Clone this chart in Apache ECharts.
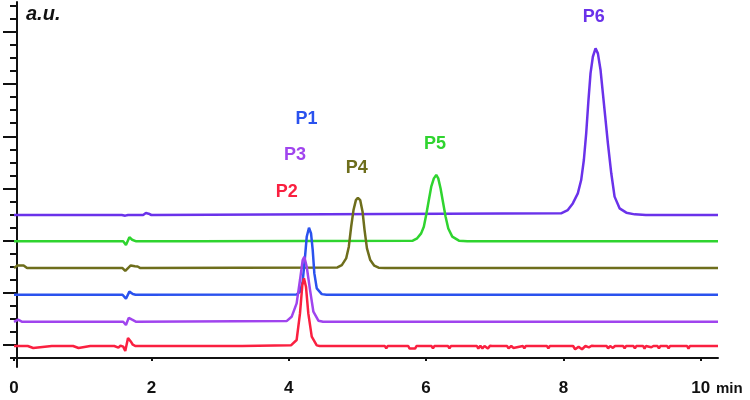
<!DOCTYPE html>
<html>
<head>
<meta charset="utf-8">
<script src="https://cdn.jsdelivr.net/npm/echarts@6/dist/echarts.min.js"></script>
<style>
  html, body { margin: 0; padding: 0; background: #fff; }
</style>
</head>
<body>
<div id="chart" style="width:750px;height:400px;"></div>
<script>
// peak names, from top trace to bottom trace
const names = ['P6', 'P5', 'P4', 'P1', 'P3', 'P2']
const colors = ['#6a32ea', '#2fd42f', '#6e6e1c', '#2a52ee', '#a044ee', '#fa2040']
// baseline of every trace (stacked offset, in a.u.)
const offsets = [10.96, 8.94, 6.89, 4.84, 2.77, 0.91]
const xTicks = [0, 2, 4, 6, 8, 10]

// [time (min), signal above baseline (a.u.)]
const traceP6 = [
  [0, 0], [1.57, 0], [1.62, -0.05], [1.66, 0], [1.88, 0], [1.92, 0.15], [1.96, 0.1], [2.0, 0],
  [7.965, 0.13], [8.063, 0.38], [8.136, 0.89], [8.209, 1.66], [8.258, 2.68], [8.297, 4.22],
  [8.331, 6.26], [8.364, 8.82], [8.394, 10.86], [8.428, 12.14], [8.467, 12.78], [8.501, 12.4],
  [8.54, 11.12], [8.574, 9.33], [8.608, 7.54], [8.647, 5.5], [8.696, 3.2], [8.744, 1.41],
  [8.817, 0.51], [8.915, 0.18], [9.037, 0.05], [9.2, 0], [10.25, 0]
]
const traceP5 = [
  [0, 0], [1.59, 0], [1.63, -0.28], [1.68, 0.32], [1.72, 0.12], [1.78, 0],
  [2.63, 0], [2.65, 0.14], [2.67, 0],
  [5.806, 0.05], [5.87, 0.23], [5.928, 0.61], [5.967, 1.12], [6.006, 2.15], [6.04, 3.17],
  [6.075, 4.19], [6.113, 4.83], [6.148, 5.09], [6.177, 4.83], [6.211, 4.06], [6.245, 3.04],
  [6.284, 1.89], [6.323, 0.99], [6.381, 0.36], [6.478, 0.05], [6.6, 0], [10.25, 0]
]
const traceP4 = [
  [0, 0], [0.05, 0.2], [0.14, 0.2], [0.19, 0],
  [1.58, 0], [1.62, -0.22], [1.66, 0], [1.7, 0.2], [1.76, 0.14], [1.8, 0.12], [1.84, 0],
  [4.709, 0.05], [4.773, 0.23], [4.836, 0.74], [4.875, 1.64], [4.909, 3.17], [4.943, 4.45],
  [4.978, 5.21], [5.007, 5.39], [5.041, 5.21], [5.075, 4.32], [5.104, 2.91], [5.139, 1.51],
  [5.187, 0.61], [5.246, 0.18], [5.308, 0.03], [5.4, 0], [10.25, 0]
]
const traceP1 = [
  [0, 0], [1.58, 0], [1.63, -0.3], [1.68, 0.24], [1.73, 0.06], [1.77, 0],
  [4.115, 0.03], [4.164, 0.23], [4.203, 1.0], [4.237, 2.91], [4.262, 4.45], [4.295, 5.14],
  [4.325, 4.7], [4.349, 3.45], [4.373, 1.64], [4.408, 0.49], [4.481, 0.05], [4.55, 0], [10.25, 0]
]
const traceP3 = [
  [0, 0], [0.06, 0.16], [0.12, 0],
  [1.59, 0], [1.63, -0.25], [1.67, 0.3], [1.72, 0.16], [1.78, 0],
  [3.969, 0.05], [4.042, 0.38], [4.115, 1.41], [4.164, 3.2], [4.203, 4.73], [4.227, 4.98],
  [4.262, 4.22], [4.31, 2.45], [4.359, 0.77], [4.432, 0.08], [4.5, 0], [10.25, 0]
]
const traceP2 = [
  [0, 0], [0.2, 0], [0.22, -0.15], [0.28, -0.15], [0.3, 0],
  [0.55, 0], [0.57, -0.15], [0.6, 0],
  [0.86, 0], [0.88, -0.15], [0.94, -0.15], [0.96, 0],
  [1.11, 0], [1.13, -0.15], [1.16, 0],
  [1.46, 0], [1.48, -0.12], [1.52, -0.12], [1.55, 0.03], [1.59, -0.05], [1.62, -0.38],
  [1.66, 0.62], [1.7, 0.35], [1.73, 0.1], [1.77, 0],
  [2.16, 0], [2.18, -0.15], [2.22, 0], [2.52, 0], [2.54, -0.15], [2.58, 0],
  [3.16, 0], [3.18, -0.12], [3.21, 0], [3.28, 0], [3.3, -0.12], [3.32, 0],
  [4.032, 0.05], [4.115, 0.46], [4.164, 2.5], [4.198, 4.68], [4.222, 5.19], [4.251, 4.55],
  [4.285, 2.5], [4.335, 0.72], [4.408, 0.05], [4.45, 0],
  [4.95, 0], [4.97, -0.15], [4.99, 0], [5.21, 0], [5.23, -0.15], [5.25, 0],
  [5.4, 0], [5.42, -0.18], [5.44, 0], [5.74, 0], [5.76, -0.2], [5.84, -0.2], [5.86, 0],
  [6.08, 0], [6.1, -0.18], [6.12, 0], [6.32, 0], [6.34, -0.18], [6.36, 0],
  [6.74, 0], [6.76, -0.2], [6.79, 0.02], [6.82, -0.18], [6.85, 0], [6.9, -0.2], [6.93, 0.02], [6.96, 0],
  [7.18, 0], [7.2, -0.18], [7.24, 0], [7.27, -0.15], [7.29, 0],
  [7.41, 0], [7.43, -0.18], [7.45, 0], [7.61, 0], [7.63, -0.15], [7.65, 0], [7.76, 0], [7.78, -0.18], [7.8, 0],
  [8.14, 0], [8.17, -0.25], [8.22, -0.05], [8.27, -0.25], [8.32, 0], [8.37, -0.1], [8.41, 0.02], [8.45, 0],
  [8.63, 0], [8.65, -0.18], [8.68, 0], [8.72, -0.15], [8.75, 0], [8.87, 0], [8.89, -0.18], [8.91, 0],
  [9.02, 0], [9.04, -0.18], [9.06, 0], [9.16, 0], [9.18, -0.2], [9.2, 0], [9.28, -0.1], [9.31, 0],
  [9.37, 0], [9.39, -0.18], [9.41, 0], [9.51, 0], [9.53, -0.18], [9.55, 0],
  [9.8, 0], [9.82, -0.2], [9.84, 0], [10.25, 0]
]
const traces = [traceP6, traceP5, traceP4, traceP1, traceP3, traceP2]

// where each peak name sits (time, a.u.)
const labelAt = [[8.44, 26.14], [6.13, 16.4], [4.99, 14.56], [4.26, 18.3], [4.09, 15.55], [3.97, 12.75]]

// y ticks: major every 4, minor every 1
const majorTicks = [1, 5, 9, 13, 17, 21, 25]
const minorTicks = []
for (let v = 0; v <= 27; v++) {
  if (majorTicks.indexOf(v) < 0) minorTicks.push(v)
}

const myChart = echarts.init(document.getElementById('chart'))

const series = traces.map((tr, i) => ({
  name: names[i],
  type: 'line',
  showSymbol: false,
  symbol: 'none',
  z: 2 + i,
  lineStyle: { color: colors[i], width: 2.5 },
  itemStyle: { color: colors[i] },
  data: tr.map(p => [p[0], p[1] + offsets[i]]),
  markPoint: {
    symbol: 'circle',
    symbolSize: 0,
    silent: true,
    label: {
      show: true,
      position: 'inside',
      formatter: names[i],
      color: colors[i],
      fontFamily: 'Liberation Sans, Arial, sans-serif',
      fontWeight: 'bold',
      fontSize: 18
    },
    data: [{ coord: labelAt[i] }]
  }
}))

const option = {
  animation: false,
  grid: { left: 14, right: 32, top: 2, bottom: 33, containLabel: false },
  xAxis: {
    type: 'value',
    min: 0,
    max: 10.25,
    interval: 2,
    splitLine: { show: false },
    axisLine: { lineStyle: { color: '#111', width: 2 } },
    axisTick: { show: true, length: 3, lineStyle: { color: '#111', width: 2 }, customValues: xTicks },
    axisLabel: {
      customValues: xTicks,
      color: '#111',
      fontSize: 17,
      fontWeight: 'bold',
      margin: 13,
      fontFamily: 'Liberation Sans, Arial, sans-serif'
    }
  },
  yAxis: [
    {
      type: 'value',
      min: -0.7,
      max: 27.3,
      offset: -3,
      splitLine: { show: false },
      axisLine: { show: true, lineStyle: { color: '#111', width: 2 } },
      axisTick: { show: true, length: 14, lineStyle: { color: '#111', width: 2 }, customValues: majorTicks },
      axisLabel: { show: false }
    },
    {
      type: 'value',
      position: 'left',
      min: -0.7,
      max: 27.3,
      offset: -3,
      splitLine: { show: false },
      axisLine: { show: false },
      axisTick: { show: true, length: 7, lineStyle: { color: '#111', width: 2 }, customValues: minorTicks },
      axisLabel: { show: false }
    }
  ],
  graphic: [
    {
      type: 'text',
      left: 26,
      top: 4,
      style: {
        text: 'a.u.',
        fill: '#111',
        font: 'italic bold 20px "Liberation Sans", Arial, sans-serif'
      }
    },
    {
      type: 'text',
      left: 716,
      top: 381,
      style: {
        text: 'min',
        fill: '#111',
        font: 'bold 15px "Liberation Sans", Arial, sans-serif'
      }
    }
  ],
  series: series
}

myChart.setOption(option)
</script>
</body>
</html>
